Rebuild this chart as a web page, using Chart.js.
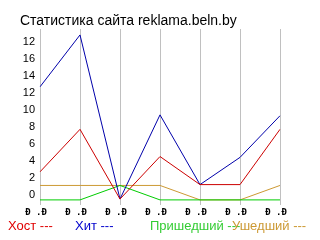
<!DOCTYPE html>
<html>
<head>
<meta charset="utf-8">
<script src="https://cdn.jsdelivr.net/npm/chart.js@4"></script>
<style>
  html, body { margin: 0; padding: 0; background: #fff; }
  #wrap { width: 320px; height: 240px; }
</style>
</head>
<body>
<div id="wrap"><canvas id="statChart" width="320" height="240"></canvas></div>
<script>
// Site statistics chart
const labels = ["Ð .Ð", "Ð .Ð", "Ð .Ð", "Ð .Ð", "Ð .Ð", "Ð .Ð", "Ð .Ð"];
const host = [2.7, 7.7, -0.5, 4.5, 1.2, 1.2, 7.7];
const hits = [12.7, 18.8, -0.5, 9.4, 1.2, 4.4, 9.3];
const arrived = [-0.6, -0.6, 1.1, -0.6, -0.6, -0.6, -0.6];
const left = [1.1, 1.1, 1.1, 1.1, -0.6, -0.6, 1.1];
const yTickValues = [0, 2, 4, 6, 8, 10, 12, 14, 16, 18];
const yTickLabels = ["0", "2", "4", "6", "8", "10", "12", "14", "16", "12"];

const titleText = "Статистика сайта reklama.beln.by";
const legendItems = [
	{ text: "Хост ---", color: "#e00000", x: 8 },
	{ text: "Хит ---", color: "#0000cc", x: 75 },
	{ text: "Пришедший ---", color: "#33cc33", x: 150 },
	{ text: "Ушедший ---", color: "#cc9933", x: 232 },
];

// title and legend drawn at fixed spots
const decor = {
	id: "decor",
	afterDraw(chart) {
		const ctx = chart.ctx;
		ctx.save();
		ctx.textBaseline = "middle";
		ctx.textAlign = "left";
		ctx.font = "14px 'Liberation Sans', Arial, sans-serif";
		ctx.fillStyle = "#000";
		ctx.fillText(titleText, 20, 21);
		ctx.font = "13px 'Liberation Sans', Arial, sans-serif";
		legendItems.forEach((it) => {
			ctx.fillStyle = it.color;
			ctx.fillText(it.text, it.x, 226);
		});
		ctx.restore();
	},
};

new Chart(document.getElementById("statChart"), {
	type: "line",
	data: {
		labels: labels,
		datasets: [
			{ label: "Хост", data: host, borderColor: "#cc0000" },
			{ label: "Хит", data: hits, borderColor: "#0000aa" },
			{ label: "Пришедший", data: arrived, borderColor: "#00cc00" },
			{ label: "Ушедший", data: left, borderColor: "#cc9933" },
		],
	},
	options: {
		responsive: false,
		animation: false,
		devicePixelRatio: 1,
		elements: {
			line: { borderWidth: 1, tension: 0, fill: false },
			point: { radius: 0 },
		},
		layout: { padding: { top: 29, bottom: 23, left: 0, right: 40 } },
		plugins: {
			legend: { display: false },
			title: { display: false },
			tooltip: { enabled: false },
		},
		scales: {
			x: {
				offset: false,
				grid: { color: "#c0c0c0", drawTicks: false },
				border: { display: false },
				ticks: {
					color: "#000",
					padding: 2,
					labelOffset: -4,
					maxRotation: 0,
					autoSkip: false,
					font: { family: "'DejaVu Sans Mono'", size: 9, weight: "bold" },
				},
				afterFit(scale) {
					scale.height = 12;
				},
			},
			y: {
				min: -1.2,
				max: 19.5,
				grid: { display: false, drawTicks: false },
				border: { display: false },
				afterBuildTicks(scale) {
					scale.ticks = yTickValues.map((v) => ({ value: v }));
				},
				afterFit(scale) {
					scale.width = 40;
				},
				ticks: {
					color: "#000",
					padding: 5,
					font: { family: "'Liberation Sans', Arial, sans-serif", size: 11 },
					callback: (value) => {
						const i = yTickValues.indexOf(value);
						return i >= 0 ? yTickLabels[i] : "";
					},
				},
			},
		},
	},
	plugins: [decor],
});
</script>
</body>
</html>
